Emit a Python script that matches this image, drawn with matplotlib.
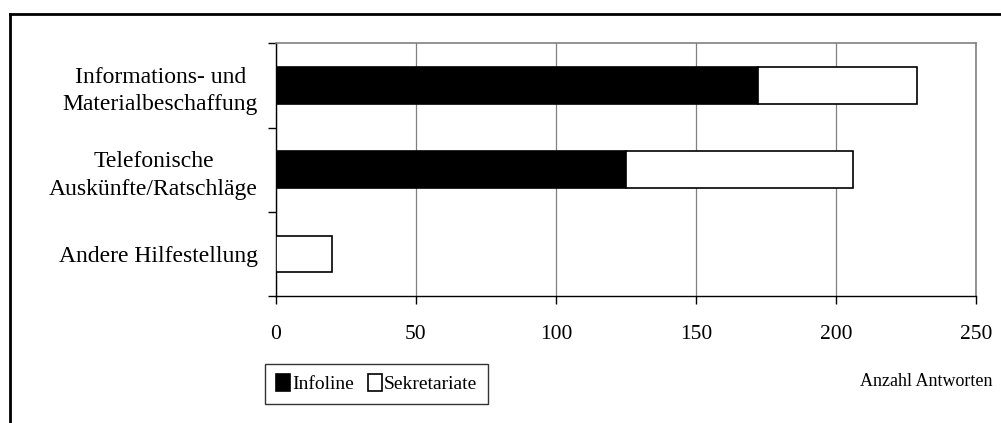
import matplotlib.pyplot as plt
from matplotlib.lines import Line2D
from matplotlib.ticker import FixedLocator

plt.rcParams['font.family'] = ['Liberation Serif', 'DejaVu Serif']

categories = ["Informations- und\nMaterialbeschaffung",
              "Telefonische\nAuskünfte/Ratschläge",
              "Andere Hilfestellung"]
infoline = [172, 125, 0]
sekretariate = [57, 81, 20]
x_ticks = [0, 50, 100, 150, 200, 250]


def main() -> None:
    fig = plt.figure(figsize=(10.01, 4.23), dpi=100)
    ax = fig.add_axes([0.2757, 0.3002, 0.975 - 0.2757, 0.8976 - 0.3002])

    ypos = list(range(len(categories)))
    ax.barh(ypos, infoline, height=0.435, color="black", edgecolor="black",
            linewidth=1.2, label="Infoline", zorder=3)
    ax.barh(ypos, sekretariate, left=infoline, height=0.435, color="white",
            edgecolor="black", linewidth=1.2, label="Sekretariate", zorder=3)

    ax.set_xlim(0, 250)
    ax.set_ylim(len(categories) - 0.5, -0.5)
    ax.set_xticks(x_ticks)
    ax.set_xticklabels([str(t) for t in x_ticks], fontsize=15.5)
    ax.set_yticks(ypos)
    ax.set_yticklabels(categories, fontsize=17, multialignment="center",
                       linespacing=1.4)
    ax.yaxis.set_minor_locator(FixedLocator([-0.5, 0.5, 1.5, 2.5]))

    ax.tick_params(axis="y", which="major", length=0, pad=13)
    ax.tick_params(axis="y", which="minor", length=6, width=1, direction="out")
    ax.tick_params(axis="x", length=6, width=1, direction="out", pad=15)

    ax.grid(axis="x", color="#808080", linewidth=0.9, zorder=0)
    ax.set_axisbelow(True)
    for side in ("top", "right"):
        ax.spines[side].set_color("#808080")
        ax.spines[side].set_linewidth(1.2)
    for side in ("left", "bottom"):
        ax.spines[side].set_color("black")
        ax.spines[side].set_linewidth(1.0)

    leg = fig.legend(loc="lower left", bbox_to_anchor=(0.2647, 0.045), ncol=2,
                     fontsize=14, frameon=True, fancybox=False, handlelength=0.75,
                     handleheight=0.9, handletextpad=0.1, columnspacing=0.7,
                     borderpad=0.55, borderaxespad=0)
    leg.get_frame().set_edgecolor("black")
    leg.get_frame().set_linewidth(1.0)

    fig.text(993 / 1001, 1 - 381 / 423, "Anzahl Antworten", fontsize=13,
             ha="right", va="center")

    # outer frame (top and left edges visible)
    fig.add_artist(Line2D([10 / 1001, 1.0], [1 - 14 / 423, 1 - 14 / 423],
                          transform=fig.transFigure, color="black", linewidth=2))
    fig.add_artist(Line2D([10 / 1001, 10 / 1001], [0.0, 1 - 14 / 423],
                          transform=fig.transFigure, color="black", linewidth=2))

    fig.savefig("out.png", dpi=100)


if __name__ == "__main__":
    main()
